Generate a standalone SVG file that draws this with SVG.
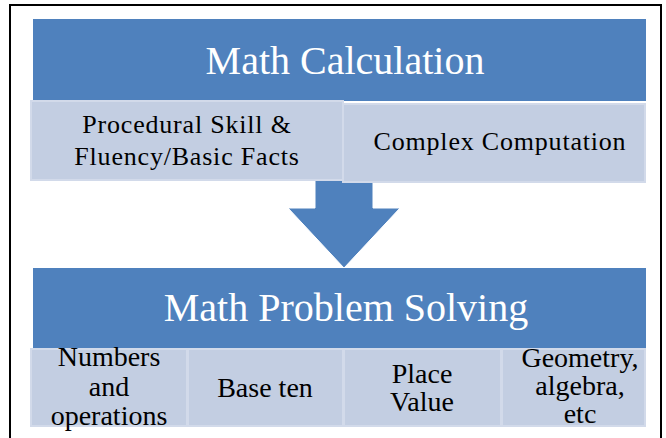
<svg xmlns="http://www.w3.org/2000/svg" width="666" height="438" viewBox="0 0 666 438">
<style>
.frame{fill:#fff;stroke:#000;stroke-width:2}
.hdr{fill:#4F81BD}
.sub{fill:#C3CEE2;stroke:#D2DAEA;stroke-width:2}
.ttl{font-family:"Liberation Serif","Times New Roman",serif;font-size:40px;fill:#fff;text-anchor:middle}
.t1{font-family:"Liberation Serif","Times New Roman",serif;font-size:26px;fill:#000;text-anchor:middle;letter-spacing:0.8px}
.t2{font-family:"Liberation Serif","Times New Roman",serif;font-size:28px;fill:#000;text-anchor:middle}
</style>
<rect x="0" y="0" width="666" height="438" fill="#fff"/>
<rect class="frame" x="10" y="5" width="651" height="445"/>
<g id="connectors">
<path d="M315,178 L373,178 L373,208 L400,208 L344,268 L288,208 L315,208 Z" fill="#4F81BD" stroke="#fff" stroke-width="1"/>
</g>
<g id="math-calculation">
<rect class="hdr" x="33" y="19" width="613" height="82"/>
<text class="ttl" x="345" y="74">Math Calculation</text>
</g>
<g id="procedural-skill">
<rect class="sub" x="31" y="101" width="312" height="79"/>
<text class="t1" x="187" y="133">Procedural Skill &amp;</text>
<text class="t1" x="187" y="165">Fluency/Basic Facts</text>
</g>
<g id="complex-computation">
<rect class="sub" x="343" y="104" width="302" height="78"/>
<text class="t1" x="500" y="150">Complex Computation</text>
</g>
<g id="math-problem-solving">
<rect class="hdr" x="33" y="268" width="613" height="80"/>
<text class="ttl" x="346" y="321">Math Problem Solving</text>
</g>
<g id="numbers-operations">
<rect class="sub" x="31" y="349" width="156" height="77"/>
<text class="t2" x="109" y="366">Numbers</text>
<text class="t2" x="109" y="396">and</text>
<text class="t2" x="109" y="425">operations</text>
</g>
<g id="base-ten">
<rect class="sub" x="188" y="349" width="155" height="77"/>
<text class="t2" x="265" y="397">Base ten</text>
</g>
<g id="place-value">
<rect class="sub" x="344" y="349" width="157" height="77"/>
<text class="t2" x="422" y="383">Place</text>
<text class="t2" x="422" y="411">Value</text>
</g>
<g id="geometry-algebra">
<rect class="sub" x="502" y="349" width="143" height="77"/>
<text class="t2" x="580" y="367">Geometry,</text>
<text class="t2" x="580" y="395">algebra,</text>
<text class="t2" x="580" y="423">etc</text>
</g>
</svg>
